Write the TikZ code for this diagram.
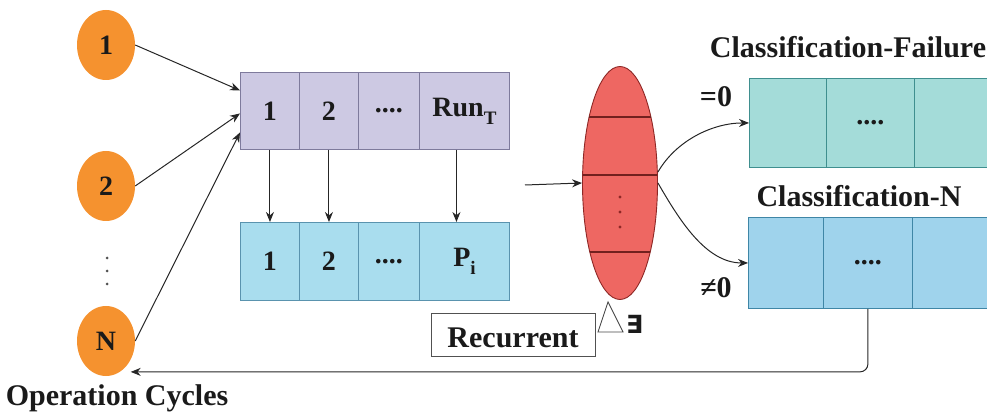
\documentclass[tikz,border=0pt]{standalone}
\usepackage{fontspec}
\setmainfont{Liberation Serif}
\newfontfamily\symfont{DejaVu Sans}
\usetikzlibrary{shapes.geometric,arrows.meta,calc}

\definecolor{txt}{HTML}{1A1A1A}
\definecolor{linec}{HTML}{262626}
\definecolor{orangec}{HTML}{F5922F}
\definecolor{purplec}{HTML}{CDC9E3}
\definecolor{purpled}{HTML}{7E7A9C}
\definecolor{bluec}{HTML}{A9DDEE}
\definecolor{blued}{HTML}{5A93AE}
\definecolor{tealc}{HTML}{A4DCD9}
\definecolor{teald}{HTML}{3F8F8F}
\definecolor{blue2c}{HTML}{9FD3EC}
\definecolor{blue2d}{HTML}{3F86A6}
\definecolor{redc}{HTML}{EE6762}
\definecolor{redd}{HTML}{8E2826}

\begin{document}
\begin{tikzpicture}[x=1pt,y=-1pt,
  lbl/.style={font=\fontsize{30}{36}\selectfont\bfseries, text=txt, inner sep=0pt},
  cell/.style={draw, anchor=north west, inner sep=0pt, line width=0.9pt,
    font=\fontsize{28}{34}\selectfont\bfseries, text=txt},
  opnode/.style={ellipse, fill=orangec, minimum width=58pt, minimum height=70pt,
    inner sep=0pt, font=\fontsize{28}{34}\selectfont\bfseries, text=txt},
  arr/.style={-{Stealth[length=10pt,width=8pt]}, line width=1pt, draw=linec}]
\clip (0,0) rectangle (987,419);

% operation cycles
\node[opnode] (o1) at (106,45) {1};
\node[opnode] (o2) at (106,186) {2};
\node[opnode] (o3) at (106,341) {N};
\foreach \yy in {258,271,284} \fill[linec!80] (107,\yy) circle (1.5pt);
\node[lbl, anchor=base] (opl) at (117,405) {Operation Cycles};

% run table
\node[cell, fill=purplec, draw=purpled, minimum width=59pt, minimum height=77pt] (t1) at (240,72) {1};
\node[cell, fill=purplec, draw=purpled, minimum width=59pt, minimum height=77pt] (t2) at (299,72) {2};
\node[cell, fill=purplec, draw=purpled, minimum width=61pt, minimum height=77pt] (t3) at (358,72) {....};
\node[cell, fill=purplec, draw=purpled, minimum width=90pt, minimum height=77pt] (t4) at (419,72)
  {Run\raisebox{-8pt}{\fontsize{19}{19}\selectfont T}};

% parameter table
\node[cell, fill=bluec, draw=blued, minimum width=59pt, minimum height=78pt] (b1) at (240,222) {1};
\node[cell, fill=bluec, draw=blued, minimum width=59pt, minimum height=78pt] (b2) at (299,222) {2};
\node[cell, fill=bluec, draw=blued, minimum width=61pt, minimum height=78pt] (b3) at (358,222) {....};
\node[cell, fill=bluec, draw=blued, minimum width=90pt, minimum height=78pt] (b4) at (419,222)
  {P\raisebox{-8pt}{\fontsize{19}{19}\selectfont i}};

% inputs
\draw[arr] (o1.east) -- ([yshift=20.5pt]t1.west);
\draw[arr] (o2.east) -- ([yshift=-2.5pt]t1.west);
\draw[arr] (o3.east) -- ([yshift=-21.5pt]t1.west);

\draw[arr] (t1.south) -- (b1.north);
\draw[arr] (t2.south) -- (b2.north);
\draw[arr] ([xshift=-8pt]t4.south) -- ([xshift=-8pt]b4.north);

% recurrent layer
\node[ellipse, draw=redd, fill=redc, line width=0.9pt, minimum width=75pt,
  minimum height=233pt, inner sep=0pt] (ell) at (620,183) {};
\begin{scope}
  \clip (620,183) ellipse [x radius=37.5pt, y radius=116.5pt];
  \foreach \yy in {117,175,252}
    \draw[line width=1.1pt, draw=redd!80!black] (570,\yy) -- (670,\yy);
\end{scope}
\foreach \yy in {197,212,227} \fill[redd] (620,\yy) circle (1.7pt);

\coordinate (inp) at (525,185);
\draw[arr] (inp) -- (ell.west);

\node[draw=linec!80, fill=white, line width=0.9pt, minimum width=164pt, minimum height=43pt,
  inner sep=0pt] (rec) at (513,335) {};
\node[lbl, anchor=base] (recl) at (513,347) {Recurrent};
\draw[line width=0.9pt, draw=linec!85] (598,332) -- (608,302) -- (623,332) -- cycle;
\node[anchor=base west, inner sep=0pt, text=txt, font=\symfont\bfseries\fontsize{25}{25}\selectfont] (ex) at (626,334) {∃};

% classification tables
\node[cell, fill=tealc, draw=teald, minimum width=77pt, minimum height=89pt] (rf1) at (749,78) {};
\node[cell, fill=tealc, draw=teald, minimum width=88pt, minimum height=89pt] (rf2) at (826,78) {....};
\node[cell, fill=tealc, draw=teald, minimum width=90pt, minimum height=89pt] (rf3) at (914,78) {};
\node[lbl, anchor=base] (cfl) at (848,58) {Classification-Failure};

\node[cell, fill=blue2c, draw=blue2d, minimum width=75pt, minimum height=91pt] (rn1) at (748,217) {};
\node[cell, fill=blue2c, draw=blue2d, minimum width=89pt, minimum height=91pt] (rn2) at (823,217) {....};
\node[cell, fill=blue2c, draw=blue2d, minimum width=90pt, minimum height=91pt] (rn3) at (912,217) {};
\node[lbl, anchor=base] (cnl) at (859,207) {Classification-N};

\draw[arr] ([yshift=11pt]ell.east) to[out=60,in=180,looseness=0.9] (rf1.west);
\draw[arr] (ell.east) to[out=-60,in=180,looseness=0.9] (rn1.west);
\node[lbl, anchor=base] (eq) at (716,107) {=0};
\node[lbl, anchor=base] (ne) at (716,298) {≠0};

% feedback
\draw[arr, rounded corners=8pt] (rn2.south) |- ([xshift=8pt,yshift=-2pt]o3.-60);
\end{tikzpicture}
\end{document}
